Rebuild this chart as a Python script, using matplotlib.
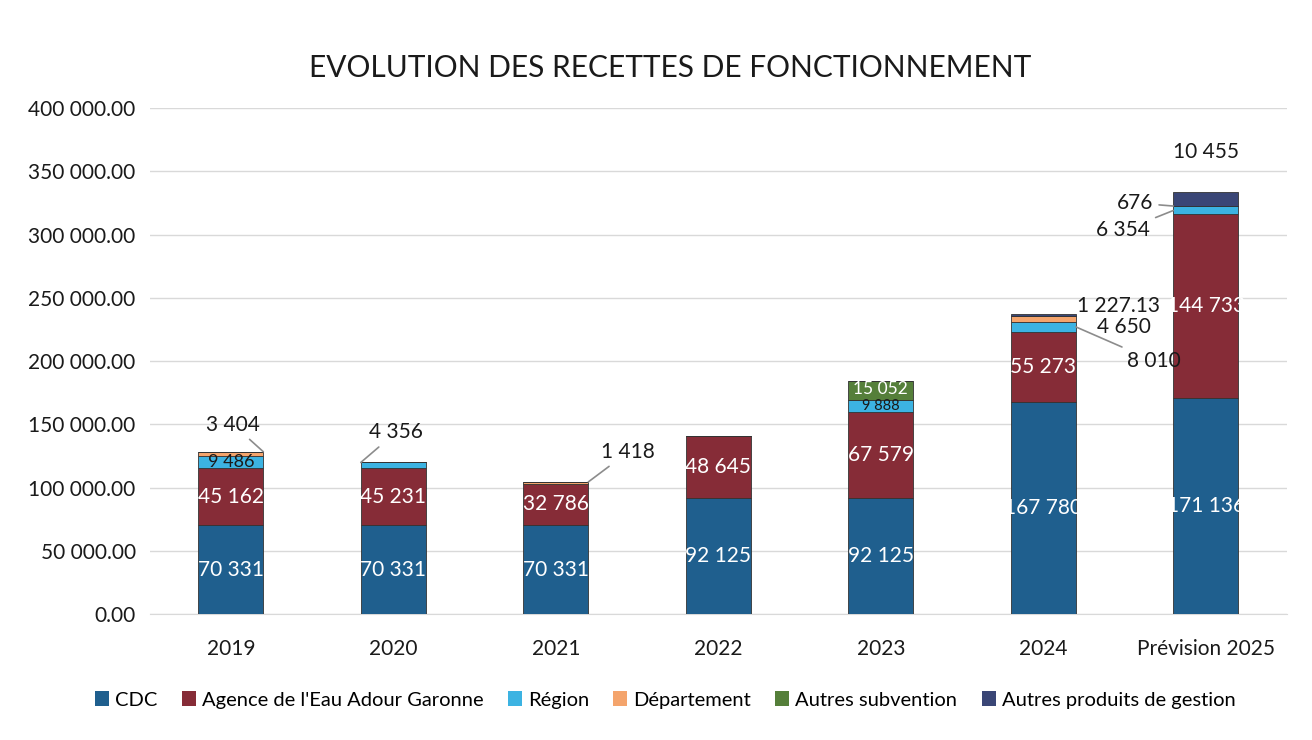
import matplotlib.pyplot as plt
from matplotlib.patches import Patch

plt.rcParams['font.family'] = ['Lato', 'DejaVu Sans']

years = ['2019', '2020', '2021', '2022', '2023', '2024', 'Prévision 2025']
series = ['CDC', "Agence de l'Eau Adour Garonne", 'Région', 'Département',
          'Autres subvention', 'Autres produits de gestion']
cdc = [70331, 70331, 70331, 92125, 92125, 167780, 171136]
agence = [45162, 45231, 32786, 48645, 67579, 55273, 144733]
region = [9486, 4356, 0, 0, 9888, 8010, 6354]
departement = [3404, 0, 1418, 0, 0, 4650, 676]
autres_subv = [0, 0, 0, 0, 15052, 0, 0]
autres_prod = [0, 0, 0, 0, 0, 1227.13, 10455]
values = [cdc, agence, region, departement, autres_subv, autres_prod]

colors = ['#1f5f8e', '#862c37', '#3cb3e2', '#f4a46c', '#557f3a', '#3a4676']


def fmt(v):
    if v == int(v):
        return f'{v:,.0f}'.replace(',', ' ')
    return f'{v:,.2f}'.replace(',', ' ')


fig = plt.figure(figsize=(13.12, 7.4), dpi=100)
ax = fig.add_axes([0.114, 0.170, 0.867, 0.684])

x = list(range(len(years)))
w = 0.4
bottoms = [0] * len(years)
segs = {}
for s, vals in enumerate(values):
    ax.bar(x, vals, w, bottom=bottoms, color=colors[s],
           edgecolor='#333333', linewidth=0.6, zorder=3)
    for i, v in enumerate(vals):
        segs[(i, s)] = (bottoms[i], v)
    bottoms = [b + v for b, v in zip(bottoms, vals)]

# labels inside the bars
for (i, s), (b, v) in segs.items():
    if v == 0 or s not in (0, 1):
        continue
    ax.text(i, b + v / 2, fmt(v), ha='center', va='center',
            color='white', fontsize=15, zorder=4)
# thin segments: smaller text so they don't collide
b, v = segs[(0, 2)]
ax.text(0, b + v / 2, fmt(v), ha='center', va='center',
        color='#1a1a1a', fontsize=13, zorder=4)
b, v = segs[(4, 2)]
ax.text(4, b + v / 2, fmt(v), ha='center', va='center',
        color='#1a1a1a', fontsize=10.5, zorder=4)
b, v = segs[(4, 4)]
ax.text(4, b + v / 2 + 800, fmt(v), ha='center', va='center',
        color='white', fontsize=12.5, zorder=4)

# labels outside the bars: (bar, serie, side, anchor, offset px, leader)
outside = [
    (0, 3, 1, 'top', (-30, 27), True),
    (1, 2, -1, 'top', (35, 30), True),
    (2, 3, 1, 'top', (40, 30), True),
    (5, 5, 1, 'mid', (43, 9), False),
    (5, 3, 1, 'mid', (48, -8), False),
    (5, 2, 1, 'mid', (78, -34), True),
    (6, 5, 0, 'top', (0, 40), False),
    (6, 3, -1, 'mid', (-38, 3), True),
    (6, 2, -1, 'mid', (-50, -20), True),
]
for i, s, side, anchor, off, line in outside:
    b, v = segs[(i, s)]
    y = b + v if anchor == 'top' else b + v / 2
    props = dict(arrowstyle='-', color='#8c8c8c', lw=1.2,
                 shrinkA=2, shrinkB=0) if line else None
    ax.annotate(fmt(v), xy=(i + side * w / 2, y), xytext=off,
                textcoords='offset pixels', ha='center', va='center',
                fontsize=15, color='#1a1a1a', arrowprops=props, zorder=5)

ticks = list(range(0, 400001, 50000))
ax.set_ylim(0, 400000)
ax.set_xlim(-0.5, len(years) - 0.5)
ax.set_yticks(ticks)
ax.set_yticklabels([f'{t:,.2f}'.replace(',', ' ') for t in ticks])
ax.set_xticks(x)
ax.set_xticklabels(years)
ax.tick_params(axis='both', length=0, labelsize=15, colors='#1a1a1a')
ax.tick_params(axis='x', pad=18)
ax.tick_params(axis='y', pad=10)
ax.grid(axis='y', color='#d9d9d9', lw=1, zorder=0)
for sp in ['top', 'right', 'left']:
    ax.spines[sp].set_visible(False)
ax.spines['bottom'].set_color('#d9d9d9')

fig.text(0.511, 0.908, 'EVOLUTION DES RECETTES DE FONCTIONNEMENT',
         ha='center', va='center', fontsize=21.5, color='#1a1a1a')

handles = [Patch(facecolor=c, edgecolor='none') for c in colors]
fig.legend(handles, series, loc='center', bbox_to_anchor=(0.507, 0.054),
           ncol=6, frameon=False, fontsize=14.5, handlelength=0.7,
           handleheight=0.7, handletextpad=0.3, columnspacing=1.2)

fig.savefig('out.png', dpi=100, facecolor='white')
